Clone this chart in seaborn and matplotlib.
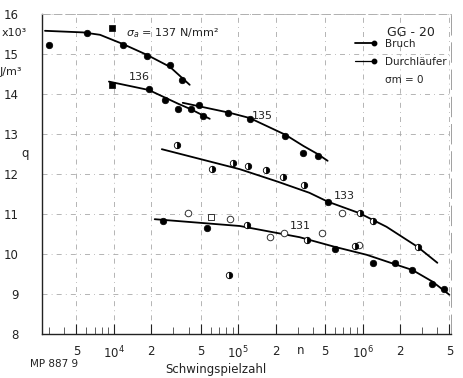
import matplotlib
matplotlib.use("Agg")
import matplotlib.pyplot as plt
import numpy as np
import pandas as pd
import seaborn as sns
from matplotlib.lines import Line2D
from matplotlib.legend_handler import HandlerLine2D
from matplotlib.ticker import FixedLocator, LogLocator, NullFormatter

# ---------------- data ----------------
x_ticks = [5e3, 1e4, 2e4, 5e4, 1e5, 2e5, 5e5, 1e6, 2e6, 5e6]
x_ticklabels = ["5", "$10^4$", "2", "5", "$10^5$", "2", "5", "$10^6$", "2", "5"]
y_ticks = [8, 9, 10, 11, 12, 13, 14, 15, 16]

# fitted curves
c137_N = [2790, 5640, 7730, 11800, 18400, 28200, 40700]
c137_q = [15.58, 15.54, 15.48, 15.25, 14.98, 14.68, 14.23]
c136_N = [9120, 19100, 32700, 41500, 59000]
c136_q = [14.31, 14.10, 13.76, 13.62, 13.38]
c135_N = [35800, 85400, 123600, 240000, 335000, 435000, 524000]
c135_q = [13.78, 13.53, 13.40, 12.98, 12.70, 12.50, 12.33]
c133_N = [24300, 103000, 207000, 374000, 524000, 946000, 1.56e6, 2.77e6, 4.0e6]
c133_q = [12.62, 12.12, 11.81, 11.53, 11.31, 11.02, 10.68, 10.18, 9.78]
c131_N = [21300, 103000, 312000, 596000, 1.08e6, 1.88e6, 2.52e6, 3.65e6, 5.0e6]
c131_q = [10.87, 10.70, 10.42, 10.18, 9.98, 9.73, 9.60, 9.31, 8.98]

# measured points: filled (Bruch)
filled_N = [3000, 6070, 11800, 18400, 28200, 35100,
            19100, 25700, 32700, 41500, 51800,
            48200, 82400, 123600, 240000, 335000, 435000,
            524000,
            24800, 55800, 596000, 1.22e6, 1.84e6, 2.52e6, 3.65e6, 4.56e6]
filled_q = [15.22, 15.52, 15.22, 14.95, 14.72, 14.35,
            14.125, 13.85, 13.63, 13.63, 13.45,
            13.73, 13.53, 13.38, 12.95, 12.53, 12.45,
            11.30,
            10.83, 10.65, 10.13, 9.78, 9.78, 9.60, 9.25, 9.13]
# filled squares
square_N = [9640, 9640]
square_q = [15.65, 14.22]
# open circles (Durchlaeufer)
open_N = [678000, 39300, 85500, 179000, 232000, 469000, 929000]
open_q = [11.03, 11.03, 10.88, 10.43, 10.53, 10.53, 10.23]
open_sq_N = [60100]
open_sq_q = [10.93]
# half-filled circles
half_N = [32000, 61200, 90400, 121000, 166000, 228000, 336000, 946000, 1.225e6, 2.77e6,
          117000, 355000, 863000, 84000]
half_q = [12.73, 12.13, 12.28, 12.20, 12.10, 11.93, 11.73, 11.03, 10.83, 10.18,
          10.73, 10.35, 10.20, 9.47]

curve_labels = ["136", "135", "133", "131"]
curve_label_N = [15900, 157000, 716000, 316000]
curve_label_q = [14.42, 13.45, 11.45, 10.69]

# ---------------- styling ----------------
sns.set_theme(style="white")
FAM = ["Liberation Sans Narrow", "DejaVu Sans"]
plt.rcParams["font.family"] = FAM
plt.rcParams["mathtext.fontset"] = "dejavusans"

W, H = 463, 378
fig = plt.figure(figsize=(W / 100, H / 100), dpi=100)
fig.patch.set_facecolor("white")
ax = fig.add_axes([42 / W, 1 - 334 / H, (451 - 42) / W, (334 - 14) / H])
ax.set_facecolor("white")

curves = pd.concat([
    pd.DataFrame({"N": c137_N, "q": c137_q, "s": "137"}),
    pd.DataFrame({"N": c136_N, "q": c136_q, "s": "136"}),
    pd.DataFrame({"N": c135_N, "q": c135_q, "s": "135"}),
    pd.DataFrame({"N": c133_N, "q": c133_q, "s": "133"}),
    pd.DataFrame({"N": c131_N, "q": c131_q, "s": "131"}),
])
sns.lineplot(data=curves, x="N", y="q", units="s", estimator=None, color="black",
             lw=1.3, ax=ax, legend=False)

sns.scatterplot(x=filled_N, y=filled_q, color="black", edgecolor="black", s=22,
                marker="o", linewidth=0.5, ax=ax, zorder=3)
sns.scatterplot(x=square_N, y=square_q, color="black", edgecolor="black", s=22,
                marker="s", linewidth=0.5, ax=ax, zorder=3)
sns.scatterplot(x=open_N, y=open_q, color="white", edgecolor="#333333", s=22,
                marker="o", linewidth=0.7, ax=ax, zorder=3)
sns.scatterplot(x=open_sq_N, y=open_sq_q, color="white", edgecolor="#333333", s=18,
                marker="s", linewidth=0.7, ax=ax, zorder=3)
ax.plot(half_N, half_q, ls="none", marker="o", fillstyle="right", markerfacecolor="black",
        markerfacecoloralt="white", markeredgecolor="black", ms=4.6, mew=0.6, zorder=3)

ax.set_xscale("log")
ax.set_xlim(2640, 5.15e6)
ax.set_ylim(8, 16)
ax.xaxis.set_major_locator(FixedLocator(x_ticks))
ax.set_xticklabels(x_ticklabels)
ax.xaxis.set_minor_locator(LogLocator(base=10, subs=[3, 4, 6, 7, 8, 9]))
ax.xaxis.set_minor_formatter(NullFormatter())
ax.set_yticks(y_ticks)
ax.set_yticklabels([str(v) for v in y_ticks])
ax.set_xlabel("")
ax.set_ylabel("")

ax.tick_params(axis="x", which="major", direction="in", length=7, width=0.8, color="#222222",
               labelsize=8.5, pad=8, labelcolor="#222222", bottom=True)
ax.tick_params(axis="x", which="minor", direction="in", length=5, width=0.6, color="#444444",
               bottom=True)
ax.tick_params(axis="y", which="major", length=0, labelsize=8.5, pad=17, labelcolor="#222222")

ax.grid(True, which="major", color="#a8a8a8", lw=0.6, ls=(0, (6, 5, 1, 5)))
for side in ["left", "bottom"]:
    ax.spines[side].set_color("#222222")
    ax.spines[side].set_linewidth(1.0)
ax.spines["top"].set_color("#b0b0b0")
ax.spines["top"].set_linewidth(0.7)
ax.spines["top"].set_linestyle((0, (8, 4)))
ax.spines["right"].set_color("#a0a0a0")
ax.spines["right"].set_linewidth(0.7)
ax.spines["right"].set_linestyle((0, (20, 8)))

# curve annotations
ax.text(29800, 15.52, r"$\sigma_a$ = 137 N/mm²", ha="center", va="center", fontsize=8,
        color="#222222")
for lab, n, q in zip(curve_labels, curve_label_N, curve_label_q):
    ax.text(n, q, lab, ha="center", va="center", fontsize=8, color="#222222")

# axis label pieces
fig.text(2 / W, 1 - 33 / H, "x10³", ha="left", va="center", fontsize=8, color="#222222")
fig.text(0 / W, 1 - 72 / H, "J/m³", ha="left", va="center", fontsize=8, color="#222222")
fig.text(25 / W, 1 - 153 / H, "q", ha="center", va="center", fontsize=8.5, color="#222222")
fig.text(301 / W, 1 - 350 / H, "n", ha="center", va="center", fontsize=8.5, color="#222222")
fig.text(30 / W, 1 - 364 / H, "MP 887 9", ha="left", va="center", fontsize=7.5, color="#222222")
fig.text(216 / W, 1 - 370 / H, "Schwingspielzahl", ha="center", va="center", fontsize=8.5,
         color="#222222", family=["DejaVu Sans"])


# legend with dot at the right end of the line
class EndDot(HandlerLine2D):
    def create_artists(self, legend, orig_handle, xdescent, ydescent, width, height,
                       fontsize, trans):
        y = height / 2 - ydescent
        show = orig_handle.get_alpha() != 0
        ln = Line2D([-xdescent, width - xdescent], [y, y], color="black",
                    lw=orig_handle.get_linewidth())
        dot = Line2D([width - xdescent], [y], ls="none", marker="o", ms=3.2,
                     color="black")
        ln.set_visible(show)
        dot.set_visible(show)
        ln.set_transform(trans)
        dot.set_transform(trans)
        return [ln, dot]


h1 = Line2D([], [], color="black", lw=1.3)
h2 = Line2D([], [], color="black", lw=0.9)
h3 = Line2D([], [], color="black", lw=0.9, alpha=0)
fig.text(387 / W, 1 - 32 / H, "GG - 20", ha="left", va="center", fontsize=9,
         color="#222222")
leg = fig.legend([h1, h2, h3], ["Bruch", "Durchläufer", "σm = 0"],
                 handler_map={Line2D: EndDot()}, loc="upper left",
                 bbox_to_anchor=(355 / W, 1 - 39 / H), frameon=False, fontsize=7.5,
                 handlelength=1.8, handletextpad=1.1, labelspacing=0.75,
                 borderpad=0, borderaxespad=0)
for t in leg.get_texts():
    t.set_color("#222222")

fig.savefig("out.png", dpi=100, facecolor="white")
